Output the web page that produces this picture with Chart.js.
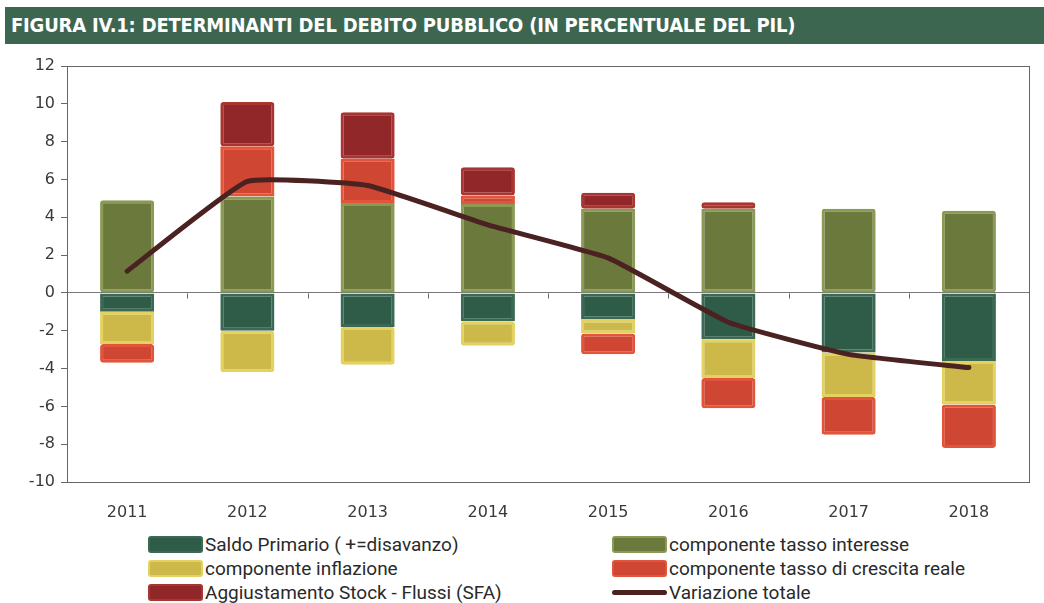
<!DOCTYPE html>
<html><head><meta charset="utf-8">
<script src="https://cdn.jsdelivr.net/npm/chart.js@4/dist/chart.umd.min.js"></script>
<style>
html,body{margin:0;padding:0;background:#fff;width:1044px;height:603px;overflow:hidden;}
#title{position:absolute;left:5px;top:7px;width:1039px;height:37px;background:#3d6651;color:#fff;
 font-family:"DejaVu Sans",sans-serif;font-stretch:condensed;font-weight:bold;font-size:20px;letter-spacing:-0.2px;line-height:37px;padding-left:6px;box-sizing:border-box;}
#wrap{position:absolute;left:0;top:50px;width:1044px;height:480px;}
#legend{position:absolute;left:148px;top:534px;width:880px;display:grid;grid-template-columns:464px 400px;row-gap:3px;
 font-family:Roboto,"Liberation Sans",sans-serif;font-size:19px;color:#2a2a2a;}
.li{display:flex;align-items:center;height:21px;}
.sw{width:55px;height:17px;border-radius:3px;margin-right:2px;box-sizing:border-box;}
.ln{width:55px;height:5px;border-radius:3px;margin-right:2px;}
</style></head>
<body>
<div id="title">FIGURA IV.1: DETERMINANTI DEL DEBITO PUBBLICO (IN PERCENTUALE DEL PIL)</div>
<div id="wrap"><canvas id="c" width="1044" height="480"></canvas></div>
<div id="legend"></div>
<script>
const years = ["2011","2012","2013","2014","2015","2016","2017","2018"];
const saldoPrimario = [-1.0, -2.0, -1.8, -1.5, -1.4, -2.45, -3.15, -3.6];
const tassoInteresse = [4.9, 5.1, 4.75, 4.7, 4.45, 4.45, 4.45, 4.35];
const inflazione = [-1.7, -2.2, -2.0, -1.3, -0.75, -2.05, -2.35, -2.3];
const crescitaReale = [-1.0, 2.65, 2.35, 0.45, -1.1, -1.6, -2.0, -2.3];
const sfa = [0, 2.35, 2.45, 1.5, 0.85, 0.35, 0, 0];
const variazioneTotale = [1.15, 5.9, 5.68, 3.6, 1.85, -1.55, -3.25, -3.95];
const yTicks = [-10,-8,-6,-4,-2,0,2,4,6,8,10,12];

function bar(label, data, fill, border){
  return {type:'bar', label, data, backgroundColor:fill, borderColor:border, borderWidth:3,
    borderRadius:3, borderSkipped:false, categoryPercentage:1, barPercentage:0.45, order:2, stack:'s'};
}
const datasets = [
  bar("Saldo Primario ( +=disavanzo)", saldoPrimario, '#2f5c48', '#3a6a54'),
  bar("componente tasso interesse", tassoInteresse, '#6b7a3c', '#8a9a55'),
  bar("componente inflazione", inflazione, '#cdb94a', '#e3d260'),
  bar("componente tasso di crescita reale", crescitaReale, '#cf4633', '#e2553c'),
  bar("Aggiustamento Stock - Flussi (SFA)", sfa, '#92272a', '#a83532'),
  {type:'line', label:"Variazione totale", data:variazioneTotale, borderColor:'#4a2222', borderWidth:5,
   pointRadius:0, tension:0.12, order:1, borderCapStyle:'round', borderJoinStyle:'round'}
];

const frame = {
  id:'frame',
  afterDatasetsDraw(chart){
    const {ctx, chartArea:a, scales:{x,y}} = chart;
    ctx.save();
    ctx.strokeStyle='#666'; ctx.lineWidth=1;
    ctx.strokeRect(a.left+0.5, a.top+0.5, a.right-a.left, a.bottom-a.top);
    const y0 = Math.round(y.getPixelForValue(0))+0.5;
    ctx.beginPath();
    for(let i=0;i<years.length-1;i++){
      const px = Math.round((x.getPixelForValue(i)+x.getPixelForValue(i+1))/2)+0.5;
      ctx.moveTo(px,y0); ctx.lineTo(px,y0+5);
    }
    ctx.stroke();
    ctx.restore();
  }
};

new Chart(document.getElementById('c'), {
  data:{labels:years, datasets},
  options:{
    responsive:false, animation:false,
    layout:{padding:{top:16,right:15,left:0,bottom:0}},
    plugins:{legend:{display:false}, tooltip:{enabled:false}},
    scales:{
      x:{stacked:true, grid:{display:false}, border:{display:false},
         ticks:{color:'#3a3a3a', font:{family:'DejaVu Sans', size:16}, padding:13},
         afterFit(s){ s.height = 48; }},
      y:{stacked:true, min:-10, max:12,
         afterBuildTicks(s){ s.ticks = yTicks.map(v=>({value:v})); },
         grid:{color:c=> (c.tick && c.tick.value===0) ? '#777' : 'rgba(0,0,0,0)', tickColor:'#666', tickLength:6, lineWidth:1},
         border:{display:false},
         ticks:{color:'#3a3a3a', font:{family:'DejaVu Sans', size:16}, padding:6},
         afterFit(s){ s.width = 67; }}
    }
  },
  plugins:[frame]
});

const lg = document.getElementById('legend');
datasets.forEach(d=>{
  const el = document.createElement('div'); el.className='li';
  const sw = document.createElement('div');
  if(d.type==='line'){ sw.className='ln'; sw.style.background=d.borderColor; }
  else { sw.className='sw'; sw.style.background=d.backgroundColor; sw.style.border='2px solid '+d.borderColor; }
  el.appendChild(sw);
  const t=document.createElement('span'); t.textContent=d.label; el.appendChild(t);
  lg.appendChild(el);
});
</script>
</body></html>
